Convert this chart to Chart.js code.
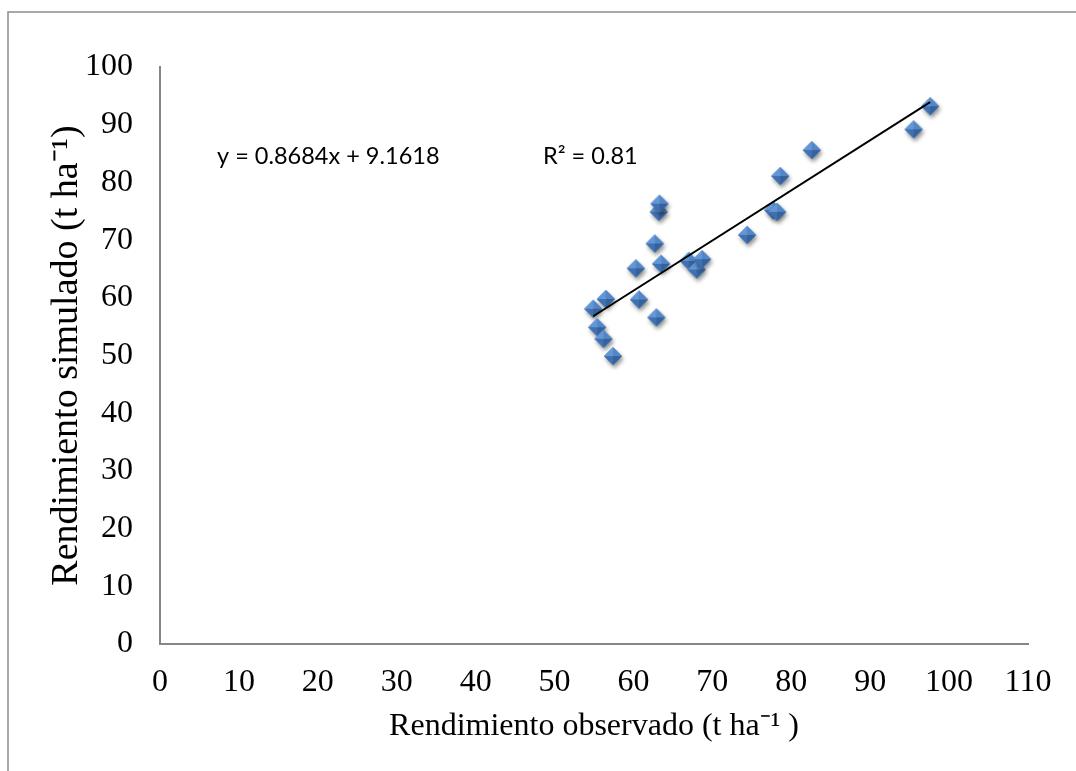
<!DOCTYPE html>
<html>
<head>
<meta charset="utf-8">
<script src="https://cdn.jsdelivr.net/npm/chart.js@4"></script>
<style>
  body { margin: 0; background: #fff; }
  canvas { display: block; }
</style>
</head>
<body>
<canvas id="chart" width="1076" height="771"></canvas>
<script>
// Rendimiento observado vs simulado (t ha-1)
const observado = [54.9, 55.4, 56.2, 56.5, 57.4, 60.3, 60.7, 62.7, 62.9, 63.2, 63.3,
                   63.5, 67.0, 68.0, 68.7, 74.4, 77.7, 78.2, 78.6, 82.6, 95.5, 97.6];
const simulado  = [58.1, 54.9, 52.9, 59.8, 49.9, 65.1, 59.7, 69.4, 56.6, 74.9, 76.3,
                   65.9, 66.4, 64.9, 66.7, 70.9, 75.2, 74.9, 81.1, 85.6, 89.2, 93.2];

// extremos de la línea de tendencia
const tendenciaX = [54.9, 97.6];
const tendenciaY = [56.8, 93.9];

const xTicks = [0, 10, 20, 30, 40, 50, 60, 70, 80, 90, 100, 110];
const yTicks = [0, 10, 20, 30, 40, 50, 60, 70, 80, 90, 100];

const ecuacion = 'y = 0.8684x + 9.1618';
const r2Texto = 'R² = 0.81';

const axisGray = '#868686';
const serif = "'Liberation Serif', 'Times New Roman', serif";

// marcador rombo con bisel y sombra (estilo Excel)
function makeDiamond() {
    const c = document.createElement('canvas');
    c.width = 30; c.height = 30;
    const g = c.getContext('2d');
    const cx = 15, cy = 15, r = 9;
    const path = () => {
        g.beginPath();
        g.moveTo(cx, cy - r); g.lineTo(cx + r, cy);
        g.lineTo(cx, cy + r); g.lineTo(cx - r, cy);
        g.closePath();
    };
    g.save();
    g.shadowColor = 'rgba(0,0,0,0.45)';
    g.shadowBlur = 4;
    g.shadowOffsetX = 1.5;
    g.shadowOffsetY = 3;
    path();
    g.fillStyle = '#4a7ebb';
    g.fill();
    g.restore();

    const facet = (ax, ay, bx, by, col) => {
        g.beginPath();
        g.moveTo(ax, ay); g.lineTo(bx, by); g.lineTo(cx, cy);
        g.closePath();
        g.fillStyle = col;
        g.fill();
    };
    facet(cx, cy - r, cx - r, cy, '#6396d4');
    facet(cx, cy - r, cx + r, cy, '#5386c6');
    facet(cx - r, cy, cx, cy + r, '#3f71b0');
    facet(cx + r, cy, cx, cy + r, '#33629e');
    return c;
}

const framePlugin = {
    id: 'frame',
    beforeDraw: (chart) => {
        const { ctx } = chart;
        ctx.save();
        ctx.strokeStyle = '#8c8c8c';
        ctx.lineWidth = 1.5;
        ctx.beginPath();
        ctx.moveTo(8, 780);
        ctx.lineTo(8, 12);
        ctx.lineTo(1090, 12);
        ctx.stroke();
        ctx.restore();
    }
};

const labelsPlugin = {
    id: 'eqLabels',
    afterDatasetsDraw: (chart) => {
        const { ctx } = chart;
        ctx.save();
        ctx.fillStyle = '#000';
        ctx.font = "23.5px Lato, 'Open Sans', sans-serif";
        ctx.textBaseline = 'alphabetic';
        ctx.textAlign = 'left';
        ctx.fillText(ecuacion, 217, 164);
        ctx.fillText(r2Texto, 543, 164);
        ctx.restore();
    }
};

const puntos = observado.map((x, i) => ({ x, y: simulado[i] }));
const tendencia = tendenciaX.map((x, i) => ({ x, y: tendenciaY[i] }));

new Chart(document.getElementById('chart'), {
    type: 'scatter',
    plugins: [framePlugin, labelsPlugin],
    data: {
        datasets: [
            {
                label: 'Lineal',
                data: tendencia,
                showLine: true,
                borderColor: '#000',
                borderWidth: 2,
                pointRadius: 0,
                fill: false
            },
            {
                label: 'Rendimiento',
                data: puntos,
                pointStyle: makeDiamond(),
                pointRadius: 9
            }
        ]
    },
    options: {
        responsive: false,
        animation: false,
        events: [],
        layout: { padding: { left: 0, top: 67, right: 48, bottom: 0 } },
        plugins: {
            legend: { display: false },
            tooltip: { enabled: false }
        },
        scales: {
            x: {
                type: 'linear',
                min: 0,
                max: 110,
                afterBuildTicks: (scale) => { scale.ticks = xTicks.map(v => ({ value: v })); },
                afterFit: (scale) => { scale.height = 127; },
                grid: { display: false, drawTicks: false },
                border: { display: true, color: axisGray, width: 2 },
                ticks: {
                    color: '#000',
                    padding: 19,
                    maxRotation: 0,
                    autoSkip: false,
                    font: { family: serif, size: 32 }
                },
                title: {
                    display: true,
                    text: 'Rendimiento observado (t ha⁻¹ )',
                    color: '#000',
                    font: { family: serif, size: 32 },
                    padding: { top: 0, bottom: 25 }
                }
            },
            y: {
                type: 'linear',
                min: 0,
                max: 100,
                afterBuildTicks: (scale) => { scale.ticks = yTicks.map(v => ({ value: v })); },
                afterFit: (scale) => { scale.width = 160; },
                grid: { display: false, drawTicks: false },
                border: { display: true, color: axisGray, width: 2 },
                ticks: {
                    color: '#000',
                    padding: 27,
                    autoSkip: false,
                    font: { family: serif, size: 32 }
                },
                title: {
                    display: true,
                    text: 'Rendimiento simulado (t ha⁻¹)',
                    color: '#000',
                    font: { family: serif, size: 38 },
                    padding: { top: 44, bottom: 0 }
                }
            }
        }
    }
});
</script>
</body>
</html>
